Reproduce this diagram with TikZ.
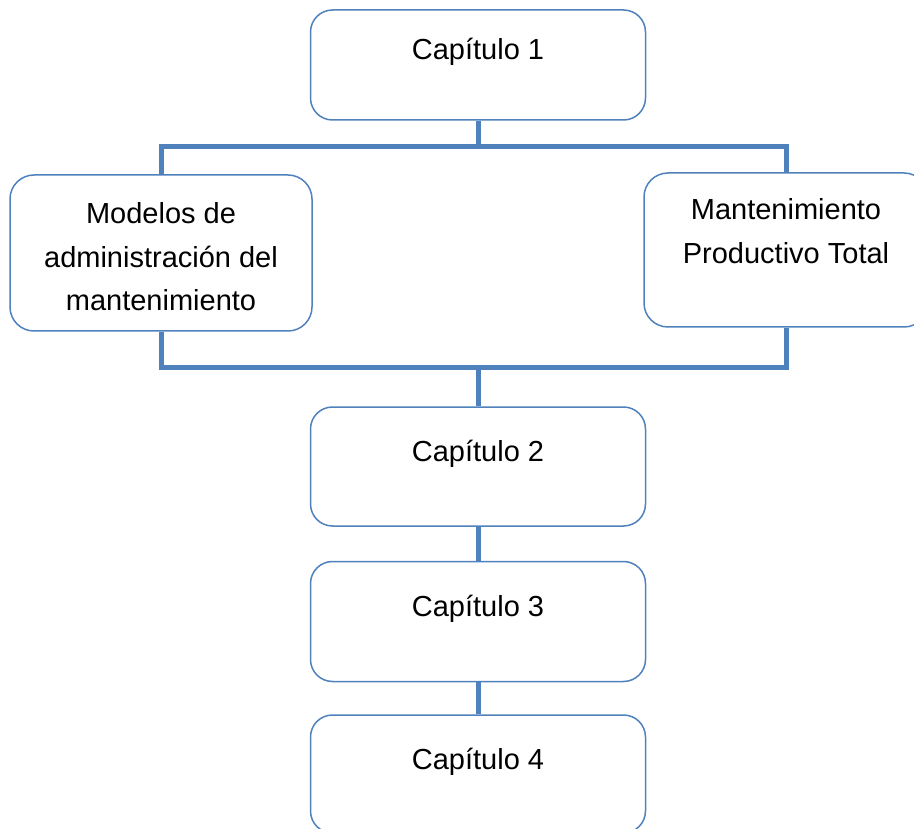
\documentclass[tikz,border=0pt]{standalone}
\usepackage{fontspec}
\setmainfont{Liberation Sans}
\usetikzlibrary{positioning}

\definecolor{boxblue}{HTML}{4F81BD}

\tikzset{
  chapbox/.style={draw=boxblue, line width=1.5pt, rounded corners=22pt, fill=white,
    minimum width=335pt, text height=20pt, text depth=30pt,
    font=\fontsize{29}{43.5}\selectfont},
  topicbox/.style={draw=boxblue, line width=1.5pt, rounded corners=24pt, fill=white,
    align=center, font=\fontsize{29}{43.5}\selectfont},
  conn/.style={draw=boxblue, line width=5pt}
}

\begin{document}
\begin{tikzpicture}[x=1pt,y=-1pt]
  \clip (0,0) rectangle (914,829);

  \node[chapbox, minimum height=110pt] (cap1) at (478,65) {Capítulo 1};

  \node[topicbox, minimum width=302pt, minimum height=156pt, text height=116pt, text depth=0pt] (admin) at (161,253)
    {Modelos de\\administración del\\mantenimiento};
  \node[topicbox, minimum width=284pt, minimum height=154pt, text depth=38pt] (tpm) at (786,250)
    {Mantenimiento\\Productivo Total};

  \node[chapbox, minimum height=119pt] (cap2) at (478,466.5) {Capítulo 2};
  \node[chapbox, minimum height=120pt, below=34pt of cap2] (cap3) {Capítulo 3};
  \node[chapbox, minimum height=118pt, below=32pt of cap3] (cap4) {Capítulo 4};

  % connectors
  \coordinate (split) at (478,147);
  \coordinate (join) at (478,368);

  \draw[conn] (cap1.south) -- (split);
  \draw[conn] (admin.north) |- (split) -| (tpm.north);
  \draw[conn] (admin.south) |- (join) -| (tpm.south);
  \draw[conn] (join) -- (cap2.north);
  \draw[conn] (cap2.south) -- (cap3.north);
  \draw[conn] (cap3.south) -- (cap4.north);
\end{tikzpicture}
\end{document}
